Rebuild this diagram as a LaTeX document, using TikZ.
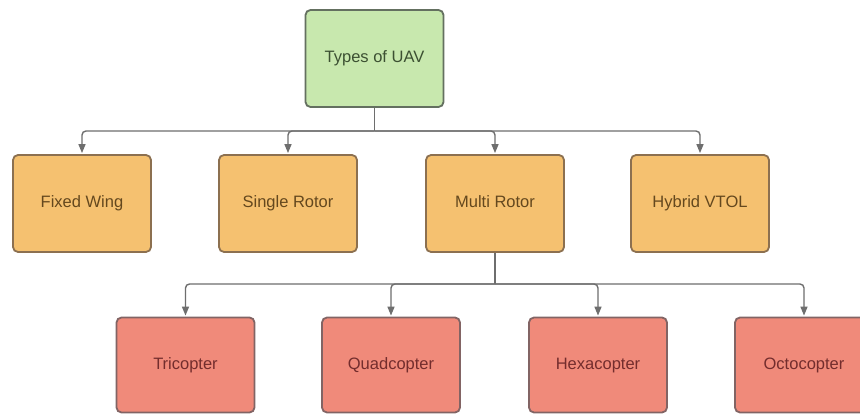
\documentclass[tikz,border=0pt]{standalone}
\usepackage{fontspec}
\setmainfont{Liberation Sans}
\usetikzlibrary{arrows.meta}

\definecolor{rootfill}{RGB}{200,232,174}
\definecolor{rootline}{RGB}{100,112,96}
\definecolor{roottext}{RGB}{60,80,50}
\definecolor{typefill}{RGB}{245,193,112}
\definecolor{typeline}{RGB}{140,112,80}
\definecolor{typetext}{RGB}{100,72,30}
\definecolor{kindfill}{RGB}{240,138,122}
\definecolor{kindline}{RGB}{130,100,100}
\definecolor{kindtext}{RGB}{115,45,45}
\definecolor{wire}{RGB}{110,110,110}

\tikzset{
  box/.style={draw, line width=1.8pt, rounded corners=5pt, minimum width=138pt,
              inner sep=0pt, text height=12pt, text depth=3.5pt,
              font=\fontsize{16.5}{18}\selectfont},
  rootbox/.style={box, fill=rootfill, draw=rootline, text=roottext, minimum height=97pt},
  typebox/.style={box, fill=typefill, draw=typeline, text=typetext, minimum height=97pt},
  kindbox/.style={box, fill=kindfill, draw=kindline, text=kindtext, minimum height=95pt},
  wireline/.style={draw=wire, line width=1.4pt},
  branch/.style={wireline, rounded corners=4pt,
                 -{Triangle[length=9pt,width=7pt]}},
}

\begin{document}
\begin{tikzpicture}[x=1pt,y=-1pt]
  \clip (0,0) rectangle (860,414);
  \fill[white] (0,0) rectangle (860,414);

  % root
  \node[rootbox] (uav) at (374.5,58.5) {Types of UAV};

  % airframe types
  \node[typebox] (fixed)  at (82,203.5)  {Fixed Wing};
  \node[typebox] (single) at (288,203.5) {Single Rotor};
  \node[typebox] (multi)  at (495,203.5) {Multi Rotor};
  \node[typebox] (hybrid) at (700,203.5) {Hybrid VTOL};

  % multirotor kinds
  \node[kindbox] (tri)  at (185.5,365) {Tricopter};
  \node[kindbox] (quad) at (391,365)   {Quadcopter};
  \node[kindbox] (hexa) at (598,365)   {Hexacopter};
  \node[kindbox] (octo) at (804,365)   {Octocopter};

  % bus junctions
  \coordinate (busA) at (374.5,131);
  \coordinate (busB) at (495,284);

  \draw[wireline] (uav.south) -- (busA);
  \foreach \c in {fixed,single,multi,hybrid}
    \draw[branch] (busA) -| ([yshift=1pt]\c.north);

  \draw[wireline] (multi.south) -- (busB);
  \foreach \c in {tri,quad,hexa,octo}
    \draw[branch] (busB) -| ([yshift=1pt]\c.north);
\end{tikzpicture}
\end{document}
